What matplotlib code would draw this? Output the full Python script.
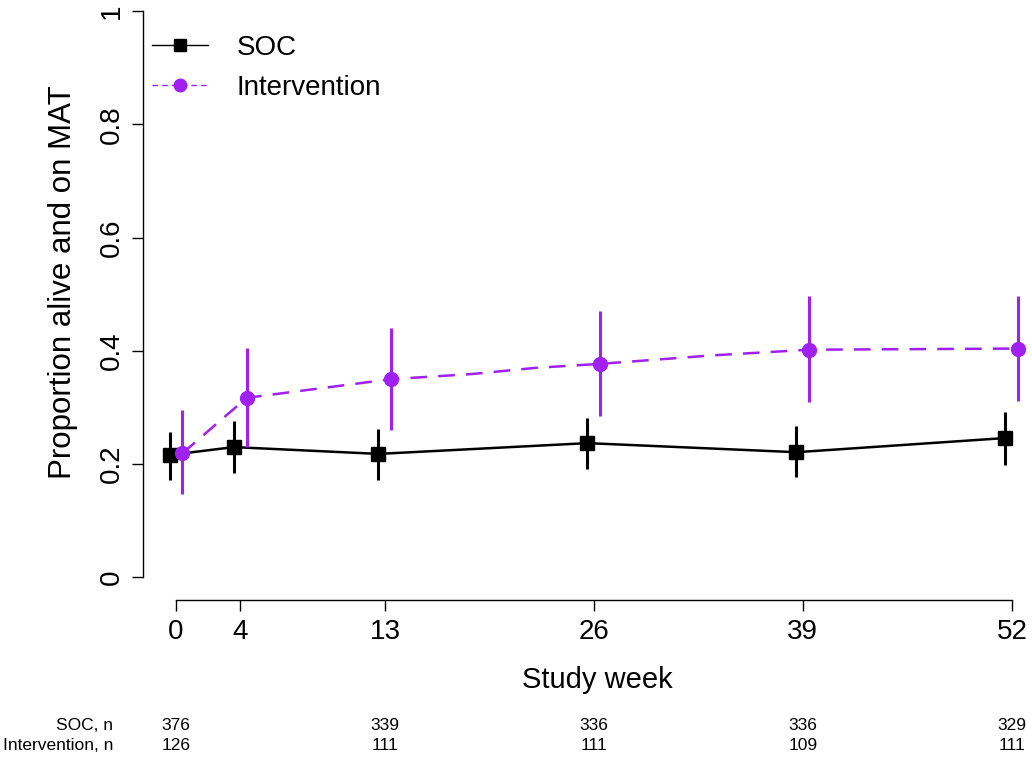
import matplotlib
matplotlib.use("Agg")
import matplotlib.pyplot as plt
import matplotlib.transforms as mtransforms
from matplotlib.lines import Line2D

plt.rcParams['font.family'] = ['Liberation Sans', 'DejaVu Sans']
plt.rcParams['lines.scale_dashes'] = False

# ---- data ----
weeks = [0, 4, 13, 26, 39, 52]
soc_est = [0.216, 0.230, 0.218, 0.237, 0.221, 0.246]
soc_lo = [0.172, 0.184, 0.172, 0.191, 0.177, 0.198]
soc_hi = [0.257, 0.276, 0.262, 0.281, 0.267, 0.292]

int_est = [0.219, 0.317, 0.350, 0.377, 0.402, 0.404]
int_lo = [0.147, 0.230, 0.260, 0.285, 0.310, 0.312]
int_hi = [0.296, 0.405, 0.441, 0.470, 0.497, 0.497]

# intervention curve vertices (line drawn through more weeks than markers)
int_curve_weeks = [0, 4, 13, 18, 22, 26, 33, 39, 52]
int_curve_vals = [0.219, 0.317, 0.350, 0.359, 0.370, 0.377, 0.392, 0.402, 0.404]

xticks = [0, 4, 13, 26, 39, 52]
yticks = [0, 0.2, 0.4, 0.6, 0.8, 1.0]
ytick_labels = ["0", "0.2", "0.4", "0.6", "0.8", "1"]

count_weeks = [0, 13, 26, 39, 52]
soc_n = [376, 339, 336, 336, 329]
int_n = [126, 111, 111, 109, 111]

PURPLE = "#A020F0"
offset = 0.4

W, H = 1032, 761
fig = plt.figure(figsize=(W / 100, H / 100), dpi=100)
ax = fig.add_axes([143 / W, (H - 600) / H, 909 / W, 611.6 / H])
ax.set_xlim(-2.05, 54.5)
ax.set_ylim(-0.04, 1.04)

# SOC
xs = [w - offset for w in weeks]
ax.vlines(xs, soc_lo, soc_hi, color="black", lw=2.2, zorder=2)
ax.plot(xs, soc_est, color="black", lw=1.8, marker="s", ms=9.5,
        mfc="black", mec="black", zorder=3)

# Intervention
xi = [w + offset for w in weeks]
ax.vlines(xi, int_lo, int_hi, color=PURPLE, lw=2.2, zorder=4)
ax.plot([w + offset for w in int_curve_weeks], int_curve_vals, color=PURPLE,
        lw=1.8, linestyle=(0, (12, 8)), zorder=5)
ax.plot(xi, int_est, linestyle="none", marker="o", ms=10, mfc=PURPLE,
        mec=PURPLE, zorder=6)

# axes styling (R-like)
for s in ["top", "right"]:
    ax.spines[s].set_visible(False)
ax.spines["left"].set_bounds(0, 1)
ax.spines["bottom"].set_bounds(0, 52)
for s in ["left", "bottom"]:
    ax.spines[s].set_linewidth(1.0)
ax.set_xticks(xticks)
ax.set_xticklabels([str(t) for t in xticks])
ax.set_yticks(yticks)
ax.set_yticklabels(ytick_labels, rotation=90, va="center")
ax.tick_params(axis="both", direction="out", length=8, width=1.0,
               labelsize=20, colors="black")
ax.tick_params(axis="x", pad=6)
ax.tick_params(axis="y", pad=5)
ax.set_xlabel("Study week", fontsize=21, labelpad=15)
ax.set_ylabel("Proportion alive and on MAT", fontsize=22.5)
ax.yaxis.set_label_coords(-0.072, 0.52)

# legend
handles = [
    Line2D([], [], color="black", lw=1.0, marker="s", ms=8),
    Line2D([], [], color=PURPLE, lw=1.0, linestyle=(0, (4, 3)), marker="o", ms=9),
]
leg = ax.legend(handles, ["SOC", "Intervention"], loc="upper left",
                bbox_to_anchor=(-2 / 909, 0.9425), frameon=False, fontsize=20,
                handlelength=2.0, handletextpad=1.05, labelspacing=0.5,
                borderaxespad=0.0)

# numbers at risk table
trans = mtransforms.blended_transform_factory(ax.transData, fig.transFigure)
y1 = 1 - 726 / H
y2 = 1 - 746 / H
fig.text(113 / W, y1, "SOC, n", ha="right", va="center", fontsize=12.5)
fig.text(113 / W, y2, "Intervention, n", ha="right", va="center", fontsize=12.5)
for w, a, b in zip(count_weeks, soc_n, int_n):
    ax.text(w, y1, str(a), transform=trans, ha="center", va="center", fontsize=12.5)
    ax.text(w, y2, str(b), transform=trans, ha="center", va="center", fontsize=12.5)

fig.savefig("out.png", dpi=100)
